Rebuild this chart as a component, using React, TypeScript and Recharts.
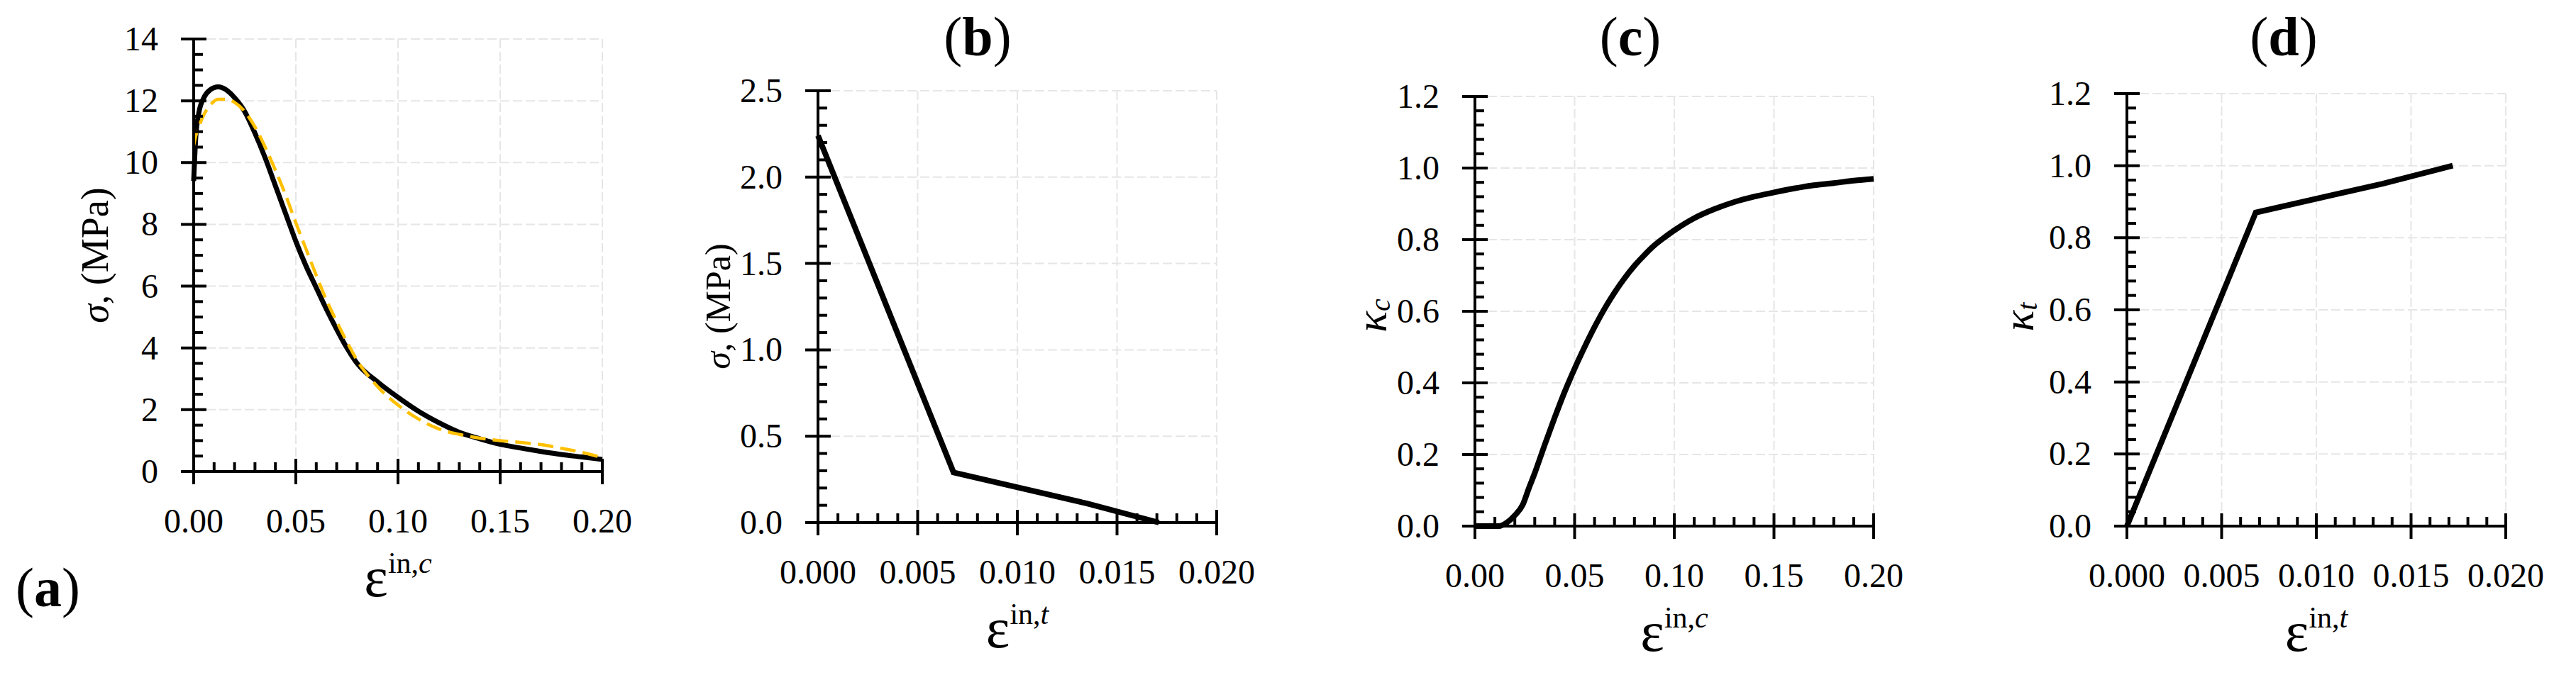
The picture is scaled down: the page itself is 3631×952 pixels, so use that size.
import React from 'react';
import { LineChart, Line, XAxis, YAxis, CartesianGrid } from 'recharts';

const FONT = '"Liberation Serif", "Times New Roman", Times, serif';
const PAGE_W = 3631;
const PAGE_H = 952;

// ---------- Panel (a): compressive stress vs inelastic strain ----------
const epsA = [0, 0.001, 0.0025, 0.005, 0.008, 0.012, 0.016, 0.02, 0.025, 0.03, 0.035, 0.04, 0.045, 0.05, 0.055, 0.06, 0.065, 0.07, 0.075, 0.08, 0.09, 0.1, 0.11, 0.12, 0.13, 0.14, 0.15, 0.16, 0.17, 0.18, 0.19, 0.2];
const sigmaModelA = [9.4, 10.8, 11.6, 12.1, 12.35, 12.45, 12.35, 12.1, 11.65, 10.95, 10.15, 9.25, 8.35, 7.45, 6.65, 5.95, 5.25, 4.6, 4.0, 3.5, 2.9, 2.4, 1.95, 1.58, 1.27, 1.06, 0.88, 0.76, 0.65, 0.55, 0.47, 0.39];
const sigmaTestA = [10.55, 10.85, 11.15, 11.55, 11.85, 12.05, 12.05, 11.95, 11.65, 11.15, 10.5, 9.75, 8.95, 8.05, 7.2, 6.35, 5.55, 4.85, 4.2, 3.6, 2.75, 2.15, 1.7, 1.38, 1.2, 1.08, 1.0, 0.94, 0.87, 0.75, 0.62, 0.45];
const xMajorA = [0, 0.05, 0.1, 0.15, 0.2];
const xLabelsA = ['0.00', '0.05', '0.10', '0.15', '0.20'];
const yMajorA = [0, 2, 4, 6, 8, 10, 12, 14];
const yLabelsA = ['0', '2', '4', '6', '8', '10', '12', '14'];

// ---------- Panel (b): tensile stress vs inelastic strain ----------
const epsB = [0, 0.0068, 0.0135, 0.0171];
const sigmaB = [2.24, 0.29, 0.11, 0];
const xMajorB = [0, 0.005, 0.01, 0.015, 0.02];
const xLabelsB = ['0.000', '0.005', '0.010', '0.015', '0.020'];
const yMajorB = [0, 0.5, 1, 1.5, 2, 2.5];
const yLabelsB = ['0.0', '0.5', '1.0', '1.5', '2.0', '2.5'];

// ---------- Panel (c): compressive damage ----------
const epsC = [0, 0.006, 0.012, 0.016, 0.02, 0.024, 0.027, 0.03, 0.035, 0.04, 0.045, 0.05, 0.055, 0.06, 0.065, 0.07, 0.075, 0.08, 0.085, 0.09, 0.095, 0.1, 0.11, 0.12, 0.13, 0.14, 0.15, 0.16, 0.17, 0.18, 0.19, 0.2];
const kappaC = [0, 0, 0, 0.01, 0.03, 0.06, 0.105, 0.148, 0.227, 0.303, 0.375, 0.44, 0.5, 0.556, 0.607, 0.652, 0.692, 0.727, 0.757, 0.784, 0.806, 0.826, 0.86, 0.885, 0.905, 0.92, 0.932, 0.943, 0.952, 0.958, 0.965, 0.97];
const xMajorC = [0, 0.05, 0.1, 0.15, 0.2];
const xLabelsC = ['0.00', '0.05', '0.10', '0.15', '0.20'];
const yMajorC = [0, 0.2, 0.4, 0.6, 0.8, 1, 1.2];
const yLabelsC = ['0.0', '0.2', '0.4', '0.6', '0.8', '1.0', '1.2'];

// ---------- Panel (d): tensile damage ----------
const epsD = [0, 0.0068, 0.0135, 0.0172];
const kappaD = [0, 0.87, 0.95, 1.0];
const xMajorD = [0, 0.005, 0.01, 0.015, 0.02];
const xLabelsD = ['0.000', '0.005', '0.010', '0.015', '0.020'];
const yMajorD = [0, 0.2, 0.4, 0.6, 0.8, 1, 1.2];
const yLabelsD = ['0.0', '0.2', '0.4', '0.6', '0.8', '1.0', '1.2'];

const dataA = epsA.map((x, i) => ({ x, model: sigmaModelA[i], test: sigmaTestA[i] }));
const dataB = epsB.map((x, i) => ({ x, model: sigmaB[i] }));
const dataC = epsC.map((x, i) => ({ x, model: kappaC[i] }));
const dataD = epsD.map((x, i) => ({ x, model: kappaD[i] }));

function withMinor(majors: number[], per: number): number[] {
  const out: number[] = [];
  for (let i = 0; i < majors.length - 1; i++) {
    const a = majors[i];
    const b = majors[i + 1];
    for (let k = 0; k < per; k++) out.push(Math.round((a + ((b - a) * k) / per) * 1e7) / 1e7);
  }
  out.push(majors[majors.length - 1]);
  return out;
}

const YPAD = 260;
const RPAD = 70;
const TICK_FONT = 48;

type Cfg = {
  plot: { left: number; right: number; top: number; bottom: number };
  data: any[];
  xMajor: number[];
  xLabels: string[];
  xPer: number;
  yMajor: number[];
  yLabels: string[];
  yPer: number;
  sup: string;
  yTitle: 'sigma' | 'kc' | 'kt';
  yTitleX: number;
  yTitleY: number;
  yTitleSize: number;
  title: string;
  titleX: number;
  titleY: number;
  titleAnchor: 'start' | 'middle';
  lines: React.ReactNode;
};

function findIdx(arr: number[], v: number) {
  for (let i = 0; i < arr.length; i++) if (Math.abs(arr[i] - v) < 1e-9) return i;
  return -1;
}

function Panel({ cfg }: { cfg: Cfg }) {
  const { left, right, top, bottom } = cfg.plot;
  const cl = left - YPAD;
  const plotW = right - left;
  const cw = YPAD + plotW + RPAD;
  const xTicks = withMinor(cfg.xMajor, cfg.xPer);
  const yTicks = withMinor(cfg.yMajor, cfg.yPer);

  const xTick = (p: any) => {
    const { x, y, payload } = p;
    const idx = findIdx(cfg.xMajor, payload.value);
    if (idx < 0) {
      return <line x1={x} x2={x} y1={y} y2={y - 13} stroke="#000" strokeWidth={4} />;
    }
    return (
      <g>
        <line x1={x} x2={x} y1={y - 18} y2={y + 18} stroke="#000" strokeWidth={4} />
        <text x={x} y={y + 86} textAnchor="middle" fontSize={TICK_FONT} fontFamily={FONT} fill="#000">
          {cfg.xLabels[idx]}
        </text>
      </g>
    );
  };
  const yTick = (p: any) => {
    const { x, y, payload } = p;
    const idx = findIdx(cfg.yMajor, payload.value);
    if (idx < 0) {
      return <line x1={x} x2={x + 13} y1={y} y2={y} stroke="#000" strokeWidth={4} />;
    }
    return (
      <g>
        <line x1={x - 18} x2={x + 18} y1={y} y2={y} stroke="#000" strokeWidth={4} />
        <text x={x - 50} y={y + 16} textAnchor="end" fontSize={TICK_FONT} fontFamily={FONT} fill="#000">
          {cfg.yLabels[idx]}
        </text>
      </g>
    );
  };

  const cx = YPAD + plotW / 2;
  const xTitle = () => (
    <text x={cx} y={bottom + 176} textAnchor="middle" fontFamily={FONT} fill="#000">
      <tspan fontSize={80}>ε</tspan>
      <tspan fontSize={42} dy={-33}>in,</tspan>
      <tspan fontSize={42} fontStyle="italic">{cfg.sup}</tspan>
    </text>
  );

  const tx = cfg.yTitleX - cl;
  const ty = cfg.yTitleY;
  const yTitle = () => (
    <g>
      {cfg.yTitle === 'sigma' ? (
        <text x={tx} y={ty} transform={`rotate(-90 ${tx} ${ty})`} textAnchor="middle" dominantBaseline="central" fontSize={cfg.yTitleSize} fontFamily={FONT} fill="#000">
          <tspan fontStyle="italic">σ</tspan>
          <tspan>, (MPa)</tspan>
        </text>
      ) : (
        <text x={tx} y={ty} transform={`rotate(-90 ${tx} ${ty})`} textAnchor="middle" dominantBaseline="central" fontSize={cfg.yTitleSize} fontFamily={FONT} fill="#000">
          <tspan fontStyle="italic">κ</tspan>
          <tspan fontStyle="italic" fontSize={40} dy={12}>{cfg.yTitle === 'kc' ? 'c' : 't'}</tspan>
        </text>
      )}
      <text x={cfg.titleX - cl} y={cfg.titleY} textAnchor={cfg.titleAnchor} fontSize={78} fontFamily={FONT} fill="#000">
        <tspan>(</tspan>
        <tspan fontWeight="bold">{cfg.title}</tspan>
        <tspan>)</tspan>
      </text>
    </g>
  );

  return (
    <div style={{ position: 'absolute', left: cl, top: 0, width: cw, height: PAGE_H }}>
      <LineChart width={cw} height={PAGE_H} data={cfg.data} margin={{ top, right: RPAD, bottom: 0, left: 0 }}>
        <CartesianGrid
          stroke="#e6e6e6"
          strokeWidth={2}
          strokeDasharray="13 5"
          horizontalValues={cfg.yMajor}
          verticalValues={cfg.xMajor}
        />
        <XAxis
          dataKey="x"
          type="number"
          domain={[cfg.xMajor[0], cfg.xMajor[cfg.xMajor.length - 1]]}
          ticks={xTicks}
          interval={0}
          tickSize={0}
          tickMargin={0}
          tickLine={false}
          axisLine={{ stroke: '#000', strokeWidth: 4 }}
          height={PAGE_H - bottom}
          tick={xTick}
          label={xTitle}
        />
        <YAxis
          type="number"
          domain={[cfg.yMajor[0], cfg.yMajor[cfg.yMajor.length - 1]]}
          ticks={yTicks}
          interval={0}
          tickSize={0}
          tickMargin={0}
          tickLine={false}
          axisLine={{ stroke: '#000', strokeWidth: 4 }}
          width={YPAD}
          tick={yTick}
          label={yTitle}
        />
        {cfg.lines}
      </LineChart>
    </div>
  );
}

const panels: Cfg[] = [
  {
    plot: { left: 273, right: 849, top: 55, bottom: 665 },
    data: dataA,
    xMajor: xMajorA, xLabels: xLabelsA, xPer: 5,
    yMajor: yMajorA, yLabels: yLabelsA, yPer: 4,
    sup: 'c', yTitle: 'sigma', yTitleX: 134, yTitleY: 360, yTitleSize: 54,
    title: 'a', titleX: 22, titleY: 855, titleAnchor: 'start',
    lines: [
      <Line key="m" type="monotone" dataKey="model" stroke="#000" strokeWidth={7} dot={false} isAnimationActive={false} />,
      <Line key="t" type="monotone" dataKey="test" stroke="#FFC000" strokeWidth={4.5} strokeDasharray="22 10" dot={false} isAnimationActive={false} />,
    ],
  },
  {
    plot: { left: 1153, right: 1715, top: 128, bottom: 737 },
    data: dataB,
    xMajor: xMajorB, xLabels: xLabelsB, xPer: 5,
    yMajor: yMajorB, yLabels: yLabelsB, yPer: 5,
    sup: 't', yTitle: 'sigma', yTitleX: 1012, yTitleY: 432, yTitleSize: 50,
    title: 'b', titleX: 1378, titleY: 78, titleAnchor: 'middle',
    lines: [<Line key="m" type="linear" dataKey="model" stroke="#000" strokeWidth={8} dot={false} isAnimationActive={false} />],
  },
  {
    plot: { left: 2079, right: 2641, top: 136, bottom: 742 },
    data: dataC,
    xMajor: xMajorC, xLabels: xLabelsC, xPer: 5,
    yMajor: yMajorC, yLabels: yLabelsC, yPer: 5,
    sup: 'c', yTitle: 'kc', yTitleX: 1933, yTitleY: 445, yTitleSize: 62,
    title: 'c', titleX: 2298, titleY: 78, titleAnchor: 'middle',
    lines: [<Line key="m" type="monotone" dataKey="model" stroke="#000" strokeWidth={8} dot={false} isAnimationActive={false} />],
  },
  {
    plot: { left: 2998, right: 3532, top: 132, bottom: 742 },
    data: dataD,
    xMajor: xMajorD, xLabels: xLabelsD, xPer: 5,
    yMajor: yMajorD, yLabels: yLabelsD, yPer: 5,
    sup: 't', yTitle: 'kt', yTitleX: 2845, yTitleY: 447, yTitleSize: 62,
    title: 'd', titleX: 3219, titleY: 78, titleAnchor: 'middle',
    lines: [<Line key="m" type="linear" dataKey="model" stroke="#000" strokeWidth={8} dot={false} isAnimationActive={false} />],
  },
];

export default function App() {
  return (
    <div style={{ position: 'absolute', left: 0, top: 0, width: PAGE_W, height: PAGE_H, background: '#fff', overflow: 'hidden' }}>
      {panels.map((p, i) => (
        <Panel key={i} cfg={p} />
      ))}
    </div>
  );
}
